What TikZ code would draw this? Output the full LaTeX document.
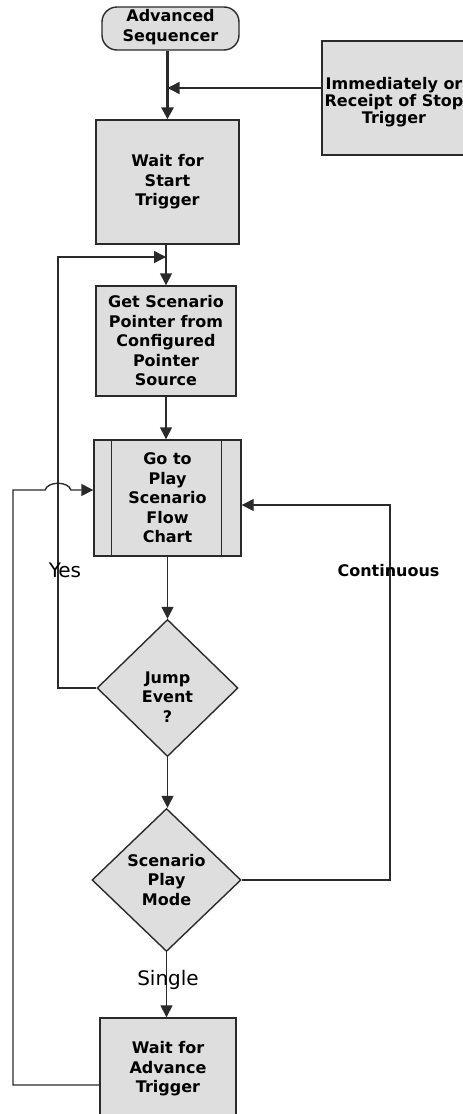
\documentclass[tikz,border=0pt]{standalone}
\usepackage{fontspec}
\setmainfont{DejaVu Sans}
\usetikzlibrary{arrows.meta,shapes.geometric}
\definecolor{boxfill}{HTML}{DEDEDE}
\definecolor{ink}{HTML}{2A2A2A}
\begin{document}
\begin{tikzpicture}[x=1pt,y=-1pt,
  every node/.style={font=\fontsize{16}{19.5}\selectfont\bfseries, text=black, align=center},
  box/.style={draw=ink, line width=1.4pt, fill=boxfill, inner sep=0pt},
  flow/.style={draw=ink, line width=1.4pt, -{Triangle[length=12pt,width=12pt]}},
  lbl/.style={font=\fontsize{20}{24}\selectfont},
]
\useasboundingbox (0,0) rectangle (463,1114);
\clip (0,0) rectangle (463,1114);

\node[box, rounded corners=15pt, minimum width=137pt, minimum height=43pt] (start) at (170.5,28.5) {};
\node (startt) at (170.5,27) {Advanced\\Sequencer};
\node[box, minimum width=144pt, minimum height=114pt] (stop) at (394,98) {};
\node[font=\fontsize{16}{17}\selectfont\bfseries] (stopt) at (394,102) {Immediately or\\Receipt of Stop\\Trigger};
\node[box, minimum width=143pt, minimum height=124pt] (wstart) at (167.5,182) {Wait for\\Start\\Trigger};
\node[box, minimum width=140pt, minimum height=110pt] (get) at (166,341) {Get Scenario\\Pointer from\\Configured\\Pointer\\Source};
\node[box, minimum width=147pt, minimum height=116pt] (go) at (167.5,498) {Go to\\Play\\Scenario\\Flow\\Chart};
\draw[draw=ink, line width=1.4pt] ([xshift=18pt]go.north west) -- ([xshift=18pt]go.south west);
\draw[draw=ink, line width=1.4pt] ([xshift=-20pt]go.north east) -- ([xshift=-20pt]go.south east);
\node[box, diamond, minimum width=141pt, minimum height=137pt] (jump) at (167.5,688) {};
\node (jumpt) at (167.5,697) {Jump\\Event\\?};
\node[box, diamond, minimum width=149pt, minimum height=143pt] (scen) at (166.5,880) {};
\node (scent) at (166.5,880) {Scenario\\Play\\Mode};
\node[box, minimum width=136pt, minimum height=102pt] (adv) at (168,1069) {Wait for\\Advance\\Trigger};

\coordinate (sy) at (0,88);
\coordinate (yl) at (58,257);
\coordinate (cr) at (390,505);
\coordinate (ll) at (13,1085);
\coordinate (lt) at (13,490);
\coordinate (b1) at (45,490);
\coordinate (b2) at (71,490);

\draw[flow, line width=3pt] (wstart.north |- start.south) -- (wstart.north);
\draw[flow] (stop.west |- sy) -- (wstart.north |- sy);
\draw[flow] (get.north |- wstart.south) -- (get.north);
\draw[flow] (jump.west) -| (yl) -- (get.north |- yl);
\draw[flow] (get.south) -- (get.south |- go.north);
\draw[flow] (go.south) -- (go.south |- jump.north);
\draw[flow] (jump.south) -- (jump.south |- scen.north);
\draw[flow] (scen.east) -| (cr) -- (go.east |- cr);
\draw[flow] (scen.south) -- (scen.south |- adv.north);
\draw[flow] (adv.west |- ll) -- (ll) -- (lt) -- (b1) .. controls (48,481) and (68,481) .. (b2) -- (go.west |- lt);

\node[lbl] (yes) at (65,570) {Yes};
\node (cont) at (388.5,571) {Continuous};
\node[lbl] (single) at (168,980) {Single};
\end{tikzpicture}
\end{document}
